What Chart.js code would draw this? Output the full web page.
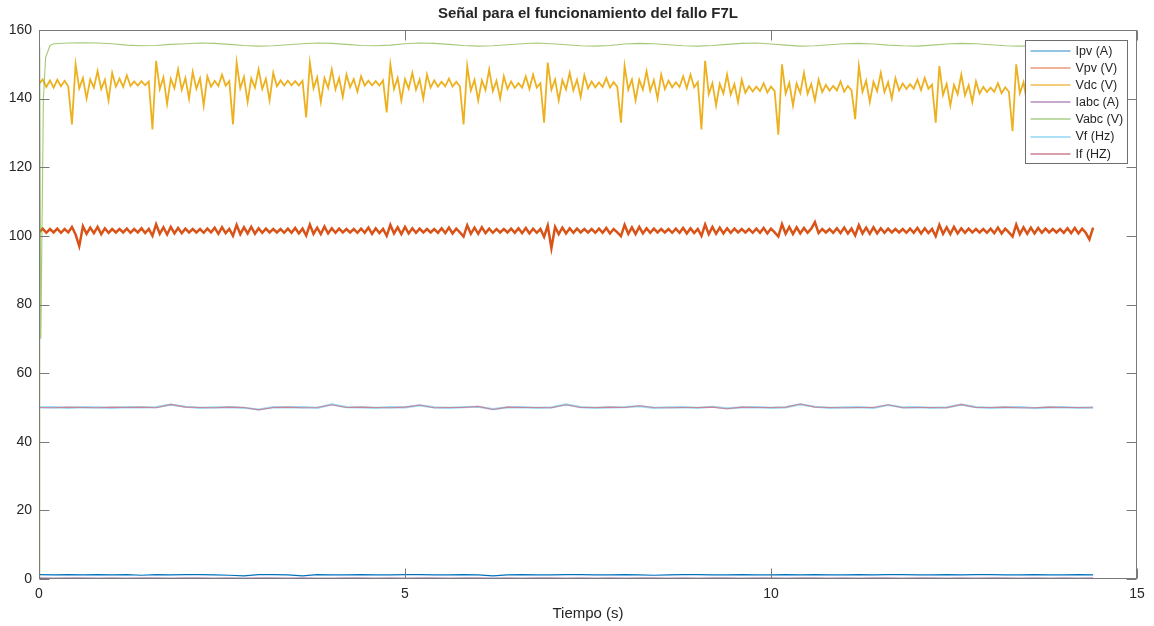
<!DOCTYPE html>
<html>
<head>
<meta charset="utf-8">
<script src="https://cdn.jsdelivr.net/npm/chart.js@4.4.0/dist/chart.umd.min.js"></script>
<style>
html, body { margin: 0; padding: 0; background: #fff; }
canvas { display: block; }
</style>
</head>
<body>
<canvas id="grafica" width="1154" height="626"></canvas>
<script>
const titulo = 'Señal para el funcionamiento del fallo F7L';
const tituloX = 'Tiempo (s)';
const etiquetas = ['Ipv (A)', 'Vpv (V)', 'Vdc (V)', 'Iabc (A)', 'Vabc (V)', 'Vf (Hz)', 'If (HZ)'];
const ticksX = [0, 5, 10, 15];
const ticksY = [0, 20, 40, 60, 80, 100, 120, 140, 160];

// muestreo de las series ruidosas (Vpv, Vdc) y de las lentas (resto)
const pasoRapido = 0.05;
const pasoLento = 0.2;

// Vdc (V), una muestra cada 0.05 s, filas = un ciclo entre picos
const vdc = [
    144.3, 145.6, 143.4, 145.3, 143.2, 145.5, 143.6, 145.2, 143.5,
    132.5, 150.0, 143.0, 146.0, 140.0, 145.6, 143.2, 148.0, 142.8, 145.5, 139.5, 147.5, 143.5, 145.8, 143.4, 146.8, 143.7, 145.0, 143.8, 145.1, 143.9, 145.0,
    131.0, 151.0, 142.8, 146.2, 138.5, 145.8, 143.0, 148.5, 142.6, 146.0, 140.0, 147.8, 142.9, 145.9, 138.0, 146.5, 143.5, 145.2, 143.7, 147.0, 143.8, 145.1,
    132.5, 150.5, 143.0, 146.3, 139.0, 145.9, 143.2, 148.5, 142.8, 145.8, 139.5, 147.5, 143.6, 145.3, 143.8, 145.2, 143.9, 145.1, 143.8, 145.2,
    134.5, 150.5, 143.0, 146.2, 139.0, 146.0, 143.1, 148.5, 142.7, 146.0, 140.5, 147.0, 143.3, 145.7, 142.0, 146.5, 143.8, 145.2, 143.9, 145.1, 143.8, 145.3,
    136.0, 150.0, 142.8, 146.0, 139.5, 145.7, 142.9, 147.5, 142.6, 145.6, 140.0, 147.0, 143.2, 145.3, 143.5, 144.9, 143.6, 145.8, 143.5, 144.9, 143.6,
    132.5, 149.5, 142.4, 145.5, 139.5, 145.3, 142.5, 148.5, 142.2, 145.2, 140.0, 146.5, 142.8, 145.0, 143.1, 144.5, 143.2, 146.5, 142.8, 147.0, 143.2, 144.5,
    133.0, 150.5, 142.6, 145.6, 139.5, 145.4, 142.7, 147.5, 142.4, 145.5, 140.5, 146.8, 143.0, 145.0, 143.3, 144.7, 143.4, 146.0, 143.2, 144.8, 143.4,
    133.0, 149.5, 142.6, 145.6, 139.5, 145.5, 142.6, 148.0, 142.3, 145.4, 140.0, 147.0, 142.8, 145.2, 143.3, 144.8, 143.4, 146.5, 143.0, 147.0, 143.3, 144.8,
    131.0, 151.0, 141.3, 144.5, 138.0, 144.3, 141.5, 147.0, 141.2, 144.2, 139.0, 145.5, 141.7, 143.6, 142.1, 143.5, 142.2, 144.5, 141.8, 143.5, 142.2,
    129.5, 150.0, 141.5, 144.6, 138.0, 144.4, 141.6, 147.5, 141.4, 144.3, 139.5, 145.5, 141.9, 144.0, 142.3, 143.7, 142.4, 145.0, 142.0, 143.7, 142.4,
    134.0, 149.5, 142.0, 145.2, 139.0, 144.9, 142.2, 147.5, 141.9, 144.8, 140.0, 146.0, 142.4, 144.4, 142.8, 144.2, 142.9, 145.5, 142.5, 146.0, 142.9, 144.1,
    133.0, 149.5, 141.1, 144.3, 138.0, 144.0, 141.3, 147.0, 141.0, 143.9, 139.0, 145.0, 141.5, 143.4, 141.9, 143.2, 142.0, 144.5, 141.6, 143.3, 142.0,
    130.5, 150.0, 141.6, 144.8, 138.5, 144.5, 141.8, 147.0, 141.5, 144.4, 139.5, 145.5, 142.0, 144.0, 142.4, 143.8, 142.5, 145.0, 142.2, 143.9, 142.5,
    137.0, 146.0
];

// Vpv (V), misma rejilla que Vdc
const vpv = [
    101.0, 102.1, 100.9, 102.0, 101.0, 102.1, 100.9, 102.0, 101.0,
    102.6, 100.4, 97.0, 102.8, 100.6, 102.4, 100.8, 102.6, 100.5, 102.2, 100.9, 102.0, 101.0, 102.0, 101.0, 102.1, 100.9, 102.0, 101.0, 102.2, 100.8, 102.0,
    100.0, 103.4, 100.6, 102.5, 100.4, 102.6, 100.7, 102.3, 100.8, 102.1, 101.0, 102.0, 101.0, 102.0, 100.9, 102.1, 101.0, 102.4, 100.6, 102.5, 100.8, 102.0,
    100.0, 103.2, 100.5, 102.5, 100.7, 102.6, 100.6, 102.2, 100.9, 102.1, 101.0, 102.0, 101.0, 102.0, 100.9, 102.1, 100.9, 102.3, 100.7, 102.1,
    100.1, 103.3, 100.6, 102.4, 100.5, 102.7, 100.7, 102.2, 100.9, 102.1, 101.0, 102.0, 101.0, 102.0, 100.9, 102.1, 100.9, 102.4, 100.6, 102.2, 100.8, 102.0,
    100.0, 103.2, 100.7, 102.5, 100.5, 102.6, 100.7, 102.2, 100.9, 102.1, 101.0, 102.0, 101.0, 102.0, 100.9, 102.2, 100.8, 102.4, 100.7, 102.1, 101.0,
    99.8, 103.1, 100.6, 102.4, 100.6, 102.5, 100.8, 102.1, 100.9, 102.0, 101.0, 102.0, 101.0, 102.1, 100.9, 102.2, 100.8, 102.3, 100.7, 102.1, 100.9, 102.0,
    99.7, 103.0, 96.4, 102.6, 100.5, 102.4, 100.7, 102.2, 100.9, 102.1, 101.0, 102.0, 101.0, 102.0, 100.9, 102.1, 100.9, 102.3, 100.7, 102.0, 101.0,
    99.9, 103.2, 100.6, 102.5, 100.5, 102.6, 100.7, 102.2, 100.9, 102.1, 101.0, 102.0, 101.0, 102.0, 100.9, 102.1, 100.9, 102.3, 100.7, 102.2, 100.8, 102.0,
    100.0, 103.3, 100.5, 102.6, 100.6, 102.4, 100.7, 102.2, 100.9, 102.1, 101.0, 102.0, 101.0, 102.0, 100.9, 102.1, 100.9, 102.3, 100.7, 102.1, 101.0,
    99.8, 103.4, 100.6, 102.6, 100.5, 102.5, 100.7, 102.3, 100.9, 102.1, 104.0, 100.8, 102.0, 101.0, 102.0, 100.9, 102.2, 100.8, 102.4, 100.7, 102.1,
    100.1, 103.1, 100.7, 102.4, 100.6, 102.5, 100.7, 102.2, 100.9, 102.1, 101.0, 102.0, 101.0, 102.0, 100.9, 102.1, 100.9, 102.3, 100.7, 102.2, 100.8, 102.0,
    99.9, 103.2, 100.6, 102.5, 100.5, 102.6, 100.7, 102.2, 100.9, 102.1, 101.0, 102.0, 101.0, 102.0, 100.9, 102.1, 100.8, 102.4, 100.7, 102.1, 101.0,
    99.8, 103.3, 100.5, 102.5, 100.6, 102.4, 100.7, 102.3, 100.9, 102.1, 101.0, 102.0, 101.0, 102.0, 100.9, 102.2, 100.8, 102.3, 100.7, 102.1, 100.9,
    99.0, 102.4
];

// series lentas, una muestra cada 0.2 s (0 .. 14.4 s)
const ipv = [
    1.3, 1.2, 1.3, 1.2, 1.3, 1.2, 1.3, 1.1, 1.3, 1.2,
    1.3, 1.3, 1.2, 1.1, 0.9, 1.3, 1.3, 1.2, 0.9, 1.3,
    1.2, 1.2, 1.3, 1.2, 1.2, 1.3, 1.3, 1.2, 1.2, 1.3,
    1.2, 0.9, 1.2, 1.3, 1.2, 1.2, 1.3, 1.3, 1.2, 1.2,
    1.3, 1.2, 1.1, 1.2, 1.3, 1.3, 1.2, 1.2, 1.3, 1.2,
    1.2, 1.3, 1.2, 1.3, 1.2, 1.2, 1.3, 1.2, 1.3, 1.3,
    1.2, 1.2, 1.3, 1.2, 1.3, 1.3, 1.2, 1.2, 1.3, 1.2,
    1.2, 1.3, 1.2
];

const iabc = [
    0.3, 0.2, 0.3, 0.3, 0.2, 0.3, 0.2, 0.3, 0.3, 0.2,
    0.3, 0.3, 0.2, 0.3, 0.2, 0.3, 0.3, 0.2, 0.3, 0.2,
    0.2, 0.3, 0.3, 0.2, 0.3, 0.2, 0.3, 0.3, 0.2, 0.3,
    0.3, 0.2, 0.3, 0.2, 0.3, 0.3, 0.2, 0.3, 0.2, 0.3,
    0.2, 0.3, 0.3, 0.2, 0.3, 0.2, 0.3, 0.3, 0.2, 0.3,
    0.3, 0.2, 0.3, 0.3, 0.2, 0.3, 0.2, 0.3, 0.3, 0.2,
    0.3, 0.3, 0.2, 0.3, 0.2, 0.3, 0.3, 0.2, 0.3, 0.2,
    0.3, 0.2, 0.3
];

const vf = [
    50.0, 50.1, 49.9, 50.1, 50.0, 49.9, 50.1, 50.0, 50.1, 50.8,
    50.2, 49.9, 50.0, 50.1, 49.9, 49.4, 50.1, 50.0, 50.1, 49.9,
    50.9, 50.1, 50.0, 49.9, 50.1, 50.0, 50.6, 50.0, 49.9, 50.1,
    50.2, 49.5, 50.0, 50.1, 49.9, 50.0, 50.9, 50.1, 49.9, 50.0,
    50.1, 50.4, 49.9, 50.0, 50.1, 49.9, 50.2, 49.7, 50.0, 50.1,
    49.9, 50.0, 50.9, 50.2, 49.9, 50.0, 50.1, 49.9, 50.7, 50.0,
    50.1, 49.9, 50.0, 50.8, 50.1, 49.9, 50.0, 50.1, 49.8, 50.0,
    50.1, 49.9, 50.0
];

const ifrec = [
    50.0, 49.9, 50.1, 50.0, 49.9, 50.1, 50.0, 50.1, 49.9, 50.9,
    50.1, 50.0, 49.9, 50.1, 50.0, 49.3, 50.0, 50.1, 49.9, 50.0,
    50.8, 50.0, 50.1, 50.0, 49.9, 50.1, 50.7, 49.9, 50.0, 50.0,
    50.3, 49.4, 50.1, 50.0, 50.0, 49.9, 50.8, 50.0, 50.0, 50.1,
    50.0, 50.5, 50.0, 49.9, 50.0, 50.0, 50.1, 49.6, 50.1, 50.0,
    50.0, 50.1, 51.0, 50.1, 50.0, 49.9, 50.0, 50.0, 50.8, 49.9,
    50.0, 50.0, 49.9, 50.9, 50.0, 50.0, 50.1, 49.9, 49.9, 50.1,
    50.0, 50.0, 49.9
];

// Vabc: arranque (0 .. 0.15 s) y luego una muestra cada 0.2 s desde 0.2 s
const vabcArranqueT = [0, 0.01, 0.025, 0.06, 0.09, 0.15];
const vabcArranque = [0, 155.0, 70.0, 140.0, 152.0, 155.5];
const vabc = [
    156.0, 156.2, 156.3, 156.2, 156.0, 155.6, 155.4, 155.5, 155.8, 156.0,
    156.2, 156.1, 155.8, 155.5, 155.3, 155.4, 155.7, 156.0, 156.2, 156.1,
    155.8, 155.5, 155.4, 155.6, 156.0, 156.2, 156.1, 155.8, 155.5, 155.3,
    155.4, 155.7, 156.0, 156.2, 156.0, 155.7, 155.4, 155.3, 155.5, 155.9,
    156.1, 156.0, 155.7, 155.4, 155.3, 155.5, 155.8, 156.1, 156.2, 155.9,
    155.6, 155.3, 155.4, 155.7, 156.0, 156.1, 155.9, 155.6, 155.4, 155.3,
    155.6, 155.9, 156.1, 156.0, 155.7, 155.4, 155.3, 155.5, 155.8, 156.0,
    155.9, 155.6
];

const COLORES = ['#0072BD', '#D95319', '#EDB120', 'rgba(126,47,142,0.55)', 'rgba(119,172,48,0.65)', '#9adaf5', '#c6869a'];
const ANCHOS = [1.2, 2.5, 1.8, 1.6, 1.1, 2.2, 1.1];
const COLORES_LEYENDA = ['#6fb0db', '#e99a78', '#f0bd4e', '#b48cbc', '#a8cf87', '#8fd6f4', '#cc7f90'];
const FUENTE = '"Liberation Sans", Arial, Helvetica, sans-serif';
const TEXTO = '#262626';

function serie(valores, paso, t0 = 0) {
    return valores.map((v, i) => ({ x: +(t0 + i * paso).toFixed(3), y: v }));
}

const datosVabc = vabcArranqueT.map((t, i) => ({ x: t, y: vabcArranque[i] }))
    .concat(serie(vabc, pasoLento, pasoLento));

const series = [
    serie(ipv, pasoLento),
    serie(vpv, pasoRapido),
    serie(vdc, pasoRapido),
    serie(iabc, pasoLento),
    datosVabc,
    serie(vf, pasoLento),
    serie(ifrec, pasoLento)
];

// caja, marcas hacia dentro, título y leyenda al estilo MATLAB
const marcoMatlab = {
    id: 'marcoMatlab',
    afterDraw(chart) {
        const { ctx, chartArea: a, scales: { x, y } } = chart;
        ctx.save();
        ctx.strokeStyle = '#7a7a7a';
        ctx.lineWidth = 1;
        const L = Math.round(a.left) + 0.5, R = Math.round(a.right) - 0.5;
        const T = Math.round(a.top) + 0.5, B = Math.round(a.bottom) - 0.5;
        ctx.strokeRect(L, T, R - L, B - T);
        ctx.beginPath();
        ticksX.forEach(v => {
            const px = Math.round(x.getPixelForValue(v)) + 0.5;
            ctx.moveTo(px, B); ctx.lineTo(px, B - 10);
            ctx.moveTo(px, T); ctx.lineTo(px, T + 10);
        });
        ticksY.forEach(v => {
            const py = Math.round(y.getPixelForValue(v)) + 0.5;
            ctx.moveTo(L, py); ctx.lineTo(L + 10, py);
            ctx.moveTo(R, py); ctx.lineTo(R - 10, py);
        });
        ctx.stroke();

        ctx.fillStyle = TEXTO;
        ctx.font = 'bold 15px ' + FUENTE;
        ctx.textAlign = 'center';
        ctx.textBaseline = 'middle';
        ctx.fillText(titulo, (a.left + a.right) / 2, 14);

        // leyenda
        const lx = 1025.5, ly = 40.5, lw = 102, lh = 123, fila = 17.1;
        ctx.fillStyle = '#fff';
        ctx.fillRect(lx, ly, lw, lh);
        ctx.strokeStyle = '#6e6e6e';
        ctx.lineWidth = 1;
        ctx.strokeRect(lx, ly, lw, lh);
        ctx.font = '12.5px ' + FUENTE;
        ctx.textAlign = 'left';
        etiquetas.forEach((txt, i) => {
            const cy = ly + 10.5 + i * fila;
            ctx.strokeStyle = COLORES_LEYENDA[i];
            ctx.lineWidth = 1.6;
            ctx.beginPath();
            ctx.moveTo(lx + 5, Math.round(cy));
            ctx.lineTo(lx + 45, Math.round(cy));
            ctx.stroke();
            ctx.fillStyle = TEXTO;
            ctx.fillText(txt, lx + 50, cy + 0.5);
        });
        ctx.restore();
    }
};

new Chart(document.getElementById('grafica'), {
    type: 'line',
    data: {
        datasets: series.map((d, i) => ({
            label: etiquetas[i],
            data: d,
            borderColor: COLORES[i],
            backgroundColor: COLORES[i],
            borderWidth: ANCHOS[i],
            pointRadius: 0,
            tension: 0,
            fill: false,
            order: series.length - i
        }))
    },
    options: {
        responsive: false,
        animation: false,
        parsing: false,
        normalized: true,
        layout: { padding: { top: 30, right: 17, left: 0, bottom: 0 } },
        plugins: {
            legend: { display: false },
            title: { display: false },
            tooltip: { enabled: false }
        },
        scales: {
            x: {
                type: 'linear',
                min: 0,
                max: 15,
                grid: { display: false, drawTicks: false },
                border: { display: false },
                ticks: { stepSize: 5, padding: 7, color: TEXTO, font: { size: 14, family: FUENTE } },
                title: { display: true, text: tituloX, color: TEXTO, font: { size: 15, family: FUENTE }, padding: { top: 0, bottom: 3 } },
                afterFit(scale) { scale.height = 47; }
            },
            y: {
                min: 0,
                max: 160,
                grid: { display: false, drawTicks: false },
                border: { display: false },
                ticks: { stepSize: 20, padding: 7, color: TEXTO, font: { size: 14, family: FUENTE } },
                afterFit(scale) { scale.width = 39; }
            }
        }
    },
    plugins: [marcoMatlab]
});
</script>
</body>
</html>
